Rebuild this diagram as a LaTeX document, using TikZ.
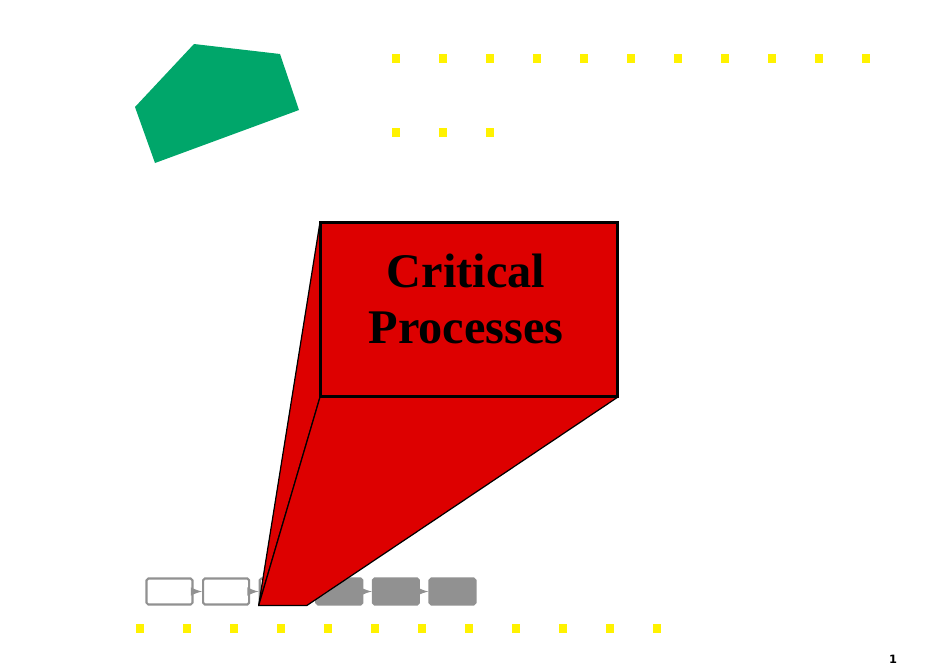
\documentclass[tikz,border=0pt]{standalone}
\usepackage{fontspec}
\setmainfont{Liberation Serif}
\newfontfamily\pagefont{DejaVu Sans}
\usepackage{tikz}
\usetikzlibrary{arrows,positioning,backgrounds}

\definecolor{critred}{RGB}{221,0,0}
\definecolor{leafgreen}{RGB}{0,166,106}
\definecolor{stepgray}{RGB}{145,145,145}

\begin{document}
\begin{tikzpicture}[
    x=0.02cm, y=-0.02cm,
    node distance=0.17cm,
    procbox/.style={rectangle, draw=stepgray, line width=1.2pt, rounded corners=1pt, minimum width=0.92cm, minimum height=0.52cm, inner sep=0pt},
    emptybox/.style={procbox, fill=white},
    fullbox/.style={procbox, fill=stepgray},
    link/.style={-latex, draw=stepgray, line width=1.2pt},
    face/.style={fill=critred, draw=black, line width=0.7pt, line join=round},
    front/.style={rectangle, draw=black, fill=critred, line width=1.7pt, minimum width=5.96cm, minimum height=3.5cm, outer sep=0pt}
]
\useasboundingbox (0,0) rectangle (950,667);

% Green shape
\fill[leafgreen] (194,44) -- (280,54) -- (299,110) -- (155,163) -- (135,107) -- cycle;

% Yellow dots
\foreach \i in {0,...,10}
    \fill[yellow] (396+47*\i-4,58-4.5) rectangle ++(8,9);
\foreach \i in {0,1,2}
    \fill[yellow] (396+47*\i-4,132-4.5) rectangle ++(8,9);
\foreach \i in {0,...,11}
    \fill[yellow] (140+47*\i-4,628-4.5) rectangle ++(8,9);

% Front face of the block
\node[front] (crit) at (469,309.5) {};
\node[font=\fontsize{27.5}{32}\selectfont\bfseries, align=center] (crittext) at (466,299) {Critical\\Processes};

% Process chain and side faces, behind the front face
\begin{scope}[on background layer]
\node[emptybox] (p1) at (169.5,591.5) {};
\node[emptybox, right=of p1] (p2) {};
\node[emptybox, right=of p2] (p3) {};
\node[fullbox, right=of p3] (p4) {};
\node[fullbox, right=of p4] (p5) {};
\node[fullbox, right=of p5] (p6) {};

\draw[link] (p1) -- (p2);
\draw[link] (p2) -- (p3);
\draw[link] (p3) -- (p4);
\draw[link] (p4) -- (p5);
\draw[link] (p5) -- (p6);

\draw[face] (crit.north west) -- (crit.south west) -- (p3.south west) -- cycle;
\draw[face] (crit.south west) -- (crit.south east) -- (p3.south east) -- (p3.south west) -- cycle;
\end{scope}

% Page number
\node[font=\pagefont\fontsize{6.5}{7}\selectfont\bfseries] (pagenum) at (893,659) {1};

\end{tikzpicture}
\end{document}
